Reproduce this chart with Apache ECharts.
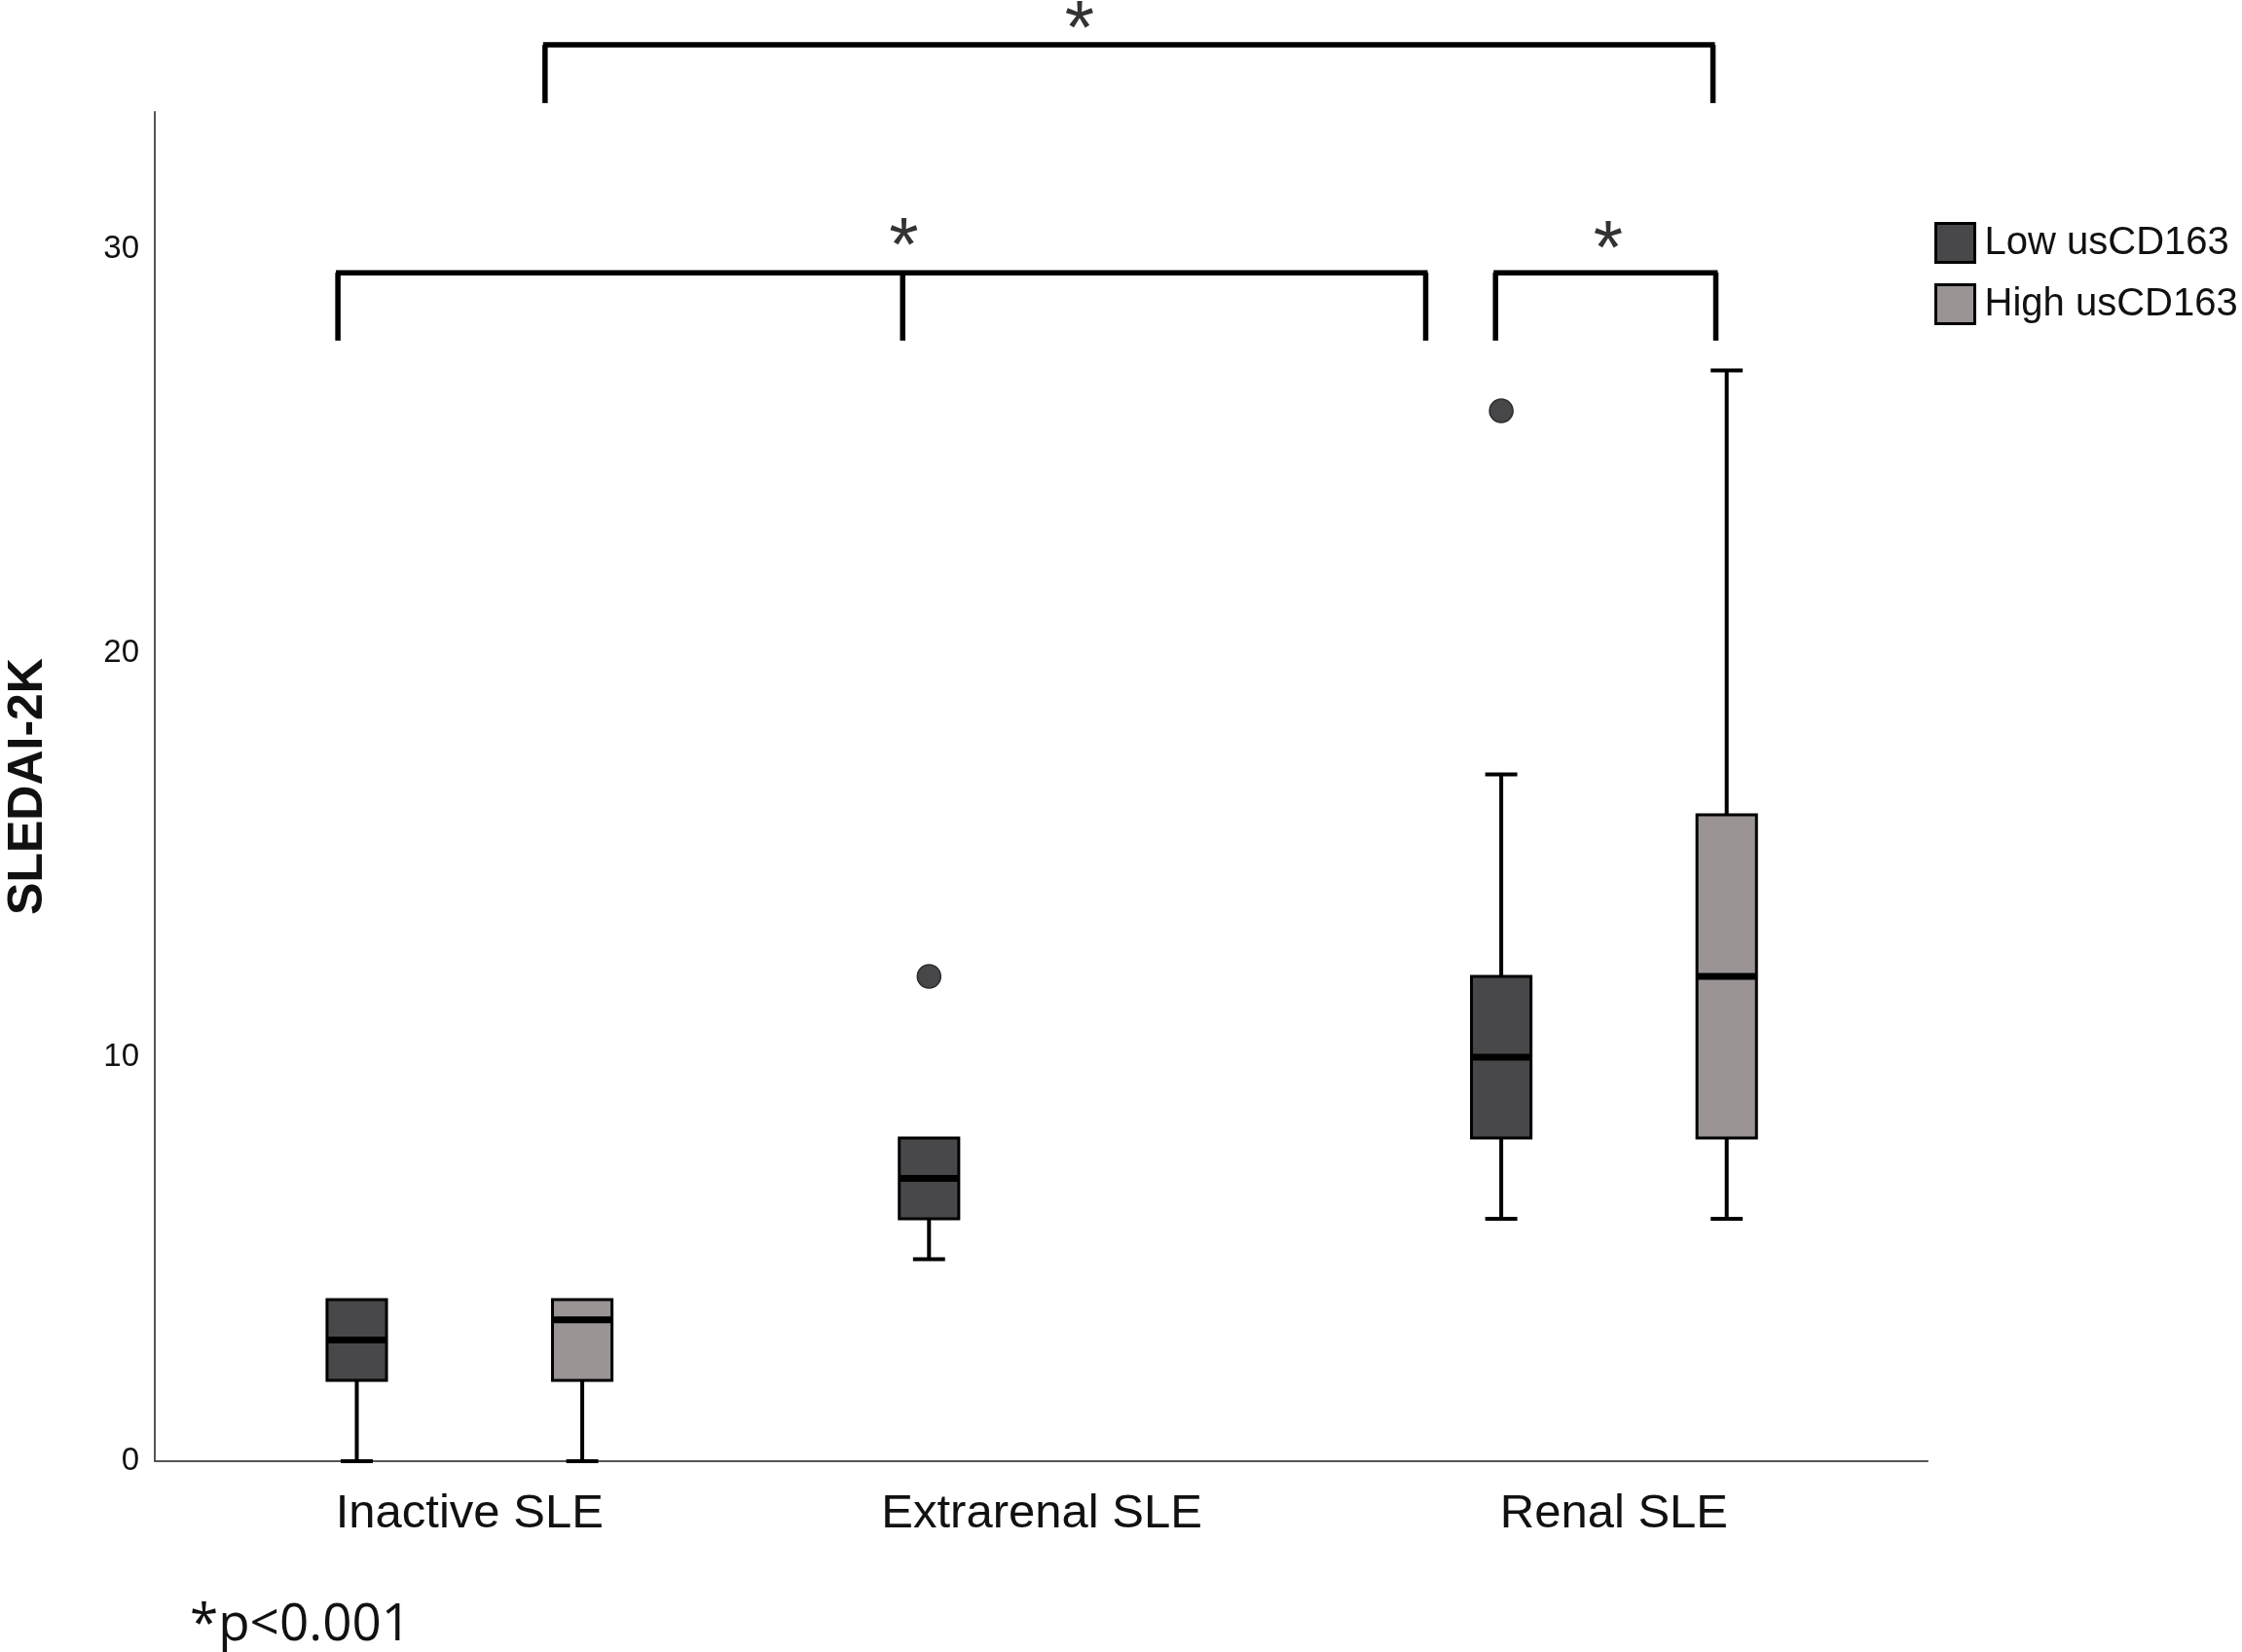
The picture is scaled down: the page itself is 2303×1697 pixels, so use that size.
<!DOCTYPE html>
<html>
<head>
<meta charset="utf-8">
<style>
  html, body { margin: 0; padding: 0; background: #fff; }
  #chart { width: 2303px; height: 1697px; }
</style>
<script src="https://cdn.jsdelivr.net/npm/echarts@6/dist/echarts.min.js"></script>
</head>
<body>
<div id="chart"></div>
<script>
var categories = ['Inactive SLE', 'Extrarenal SLE', 'Renal SLE'];
var seriesNames = ['Low usCD163', 'High usCD163'];
// [min, Q1, median, Q3, max] per category, null = group not present
var lowBoxes = [[0, 2, 3, 4, 4], [5, 6, 7, 8, 8], [6, 8, 10, 12, 17]];
var highBoxes = [[0, 2, 3.5, 4, 4], null, [6, 8, 12, 16, 27]];
// [category index, value]
var lowOutliers = [[1, 12], [2, 26]];
var yTicks = [0, 10, 20, 30];
// significance brackets (x in category units, y in SLEDAI-2K units)
var bracketLegs = [[0.132, 2.173], [-0.23, 0.757, 1.671], [1.793, 2.178]];
var bracketTops = [35.06, 29.42, 29.42];
var bracketFeet = [33.62, 27.74, 27.74];
var starX = [1.066, 0.759, 1.99];
var starY = [35.78, 30.41, 30.33];
var noteText = '*p<0.001';

(function() {
  var font = "'Liberation Sans', Arial, sans-serif";
  var lowFill = '#48484b';
  var highFill = '#9a9594';
  var axisColor = '#555';
  var BOX_HALF = 0.052, CAP_HALF = 0.028, SHIFT = 0.197;

  var chart = echarts.init(document.getElementById('chart'), null, { renderer: 'canvas' });

  function boxData(boxes) {
    var out = [];
    boxes.forEach(function(b, i) { if (b) out.push([i].concat(b)); });
    return out;
  }

  function boxRenderer(shift, fill) {
    return function(params, api) {
      var cat = api.value(0);
      var unit = api.size([1, 0])[0];
      var cx = api.coord([cat + shift, 0])[0];
      var hw = unit * BOX_HALF, cw = unit * CAP_HALF;
      function y(k) { return api.coord([0, api.value(k)])[1]; }
      var yMin = y(1), yQ1 = y(2), yMed = y(3), yQ3 = y(4), yMax = y(5);
      var whisker = { stroke: '#000', lineWidth: 4, fill: null };
      var kids = [];
      if (yMin > yQ1 + 0.5) {
        kids.push({ type: 'line', shape: { x1: cx, y1: yQ1, x2: cx, y2: yMin }, style: whisker });
        kids.push({ type: 'line', shape: { x1: cx - cw, y1: yMin, x2: cx + cw, y2: yMin }, style: whisker });
      }
      if (yMax < yQ3 - 0.5) {
        kids.push({ type: 'line', shape: { x1: cx, y1: yQ3, x2: cx, y2: yMax }, style: whisker });
        kids.push({ type: 'line', shape: { x1: cx - cw, y1: yMax, x2: cx + cw, y2: yMax }, style: whisker });
      }
      kids.push({
        type: 'rect',
        shape: { x: cx - hw, y: yQ3, width: hw * 2, height: yQ1 - yQ3 },
        style: { fill: fill, stroke: '#000', lineWidth: 3 }
      });
      kids.push({ type: 'line', shape: { x1: cx - hw, y1: yMed, x2: cx + hw, y2: yMed }, style: { stroke: '#000', lineWidth: 7 } });
      return { type: 'group', children: kids };
    };
  }

  function outlierRenderer(shift, fill) {
    return function(params, api) {
      var p = api.coord([api.value(0) + shift, api.value(1)]);
      return { type: 'circle', shape: { cx: p[0], cy: p[1], r: 12 }, style: { fill: fill, stroke: '#2a2a2a', lineWidth: 1.5 } };
    };
  }

  function bracketRenderer(params, api) {
    var i = params.dataIndex;
    var legs = bracketLegs[i];
    var top = api.coord([0, bracketTops[i]])[1];
    var foot = api.coord([0, bracketFeet[i]])[1];
    var xs = legs.map(function(v) { return api.coord([v, 0])[0]; });
    var st = { stroke: '#000', lineWidth: 5.5, fill: null };
    var kids = [{ type: 'line', shape: { x1: xs[0] - 2, y1: top, x2: xs[xs.length - 1] + 2, y2: top }, style: st }];
    xs.forEach(function(x) {
      kids.push({ type: 'line', shape: { x1: x, y1: top, x2: x, y2: foot }, style: st });
    });
    var s = api.coord([starX[i], starY[i]]);
    kids.push({
      type: 'text',
      style: { text: '*', x: s[0], y: s[1] + 17, align: 'center', verticalAlign: 'middle', fontSize: 78, fontFamily: font, fill: '#333' }
    });
    return { type: 'group', children: kids };
  }

  chart.setOption({
    animation: false,
    backgroundColor: '#fff',
    grid: { left: 159, right: 323, top: 115, bottom: 196, containLabel: false, outerBoundsMode: 'none' },
    legend: {
      orient: 'vertical', left: 1987, top: 228, padding: 0,
      itemWidth: 40, itemHeight: 40, itemGap: 20,
      selectedMode: false,
      textStyle: { fontSize: 40, fontFamily: font, color: '#111', padding: [0, 0, 0, 5] },
      data: [
        { name: seriesNames[0], icon: 'rect', itemStyle: { color: lowFill, borderColor: '#000', borderWidth: 3 } },
        { name: seriesNames[1], icon: 'rect', itemStyle: { color: highFill, borderColor: '#000', borderWidth: 3 } }
      ]
    },
    xAxis: {
      type: 'value', min: -0.55, max: 2.548,
      splitLine: { show: false },
      axisTick: { show: false },
      axisLine: { onZero: false, lineStyle: { color: axisColor, width: 2 } },
      axisLabel: {
        customValues: [0, 1, 2],
        fontSize: 49, fontFamily: font, color: '#111', margin: 30,
        formatter: function(v) {
          var r = Math.round(v);
          return Math.abs(v - r) < 1e-6 && categories[r] ? categories[r] : '';
        }
      }
    },
    yAxis: {
      type: 'value', min: 0, max: 33.4, interval: 10,
      name: 'SLEDAI-2K', nameLocation: 'middle', nameGap: 105,
      nameTextStyle: { fontSize: 50, fontWeight: 'bold', fontFamily: font, color: '#111' },
      splitLine: { show: false },
      axisTick: { show: false },
      axisLine: { show: true, onZero: false, lineStyle: { color: axisColor, width: 2 } },
      axisLabel: {
        fontSize: 33, fontFamily: font, color: '#111', margin: 16,
        formatter: function(v) { return yTicks.indexOf(v) >= 0 ? String(v) : ''; }
      }
    },
    series: [
      {
        name: seriesNames[0], type: 'custom', clip: false, z: 3,
        itemStyle: { color: lowFill },
        encode: { x: 0, y: [1, 2, 3, 4, 5] },
        renderItem: boxRenderer(-SHIFT, lowFill),
        data: boxData(lowBoxes)
      },
      {
        name: seriesNames[1], type: 'custom', clip: false, z: 3,
        itemStyle: { color: highFill },
        encode: { x: 0, y: [1, 2, 3, 4, 5] },
        renderItem: boxRenderer(SHIFT, highFill),
        data: boxData(highBoxes)
      },
      {
        name: seriesNames[0], type: 'custom', clip: false, z: 4,
        itemStyle: { color: lowFill },
        encode: { x: 0, y: 1 },
        renderItem: outlierRenderer(-SHIFT, '#47474a'),
        data: lowOutliers
      },
      {
        name: 'brackets', type: 'custom', clip: false, z: 5,
        encode: { x: 0, y: 1 },
        renderItem: bracketRenderer,
        data: starX.map(function(x, i) { return [x, bracketTops[i]]; })
      }
    ],
    graphic: [{
      type: 'text', left: 195, top: 1643,
      style: { text: noteText, fontSize: 53, fontFamily: "'Open Sans', sans-serif", fill: '#111' }
    }]
  });
  window.addEventListener('resize', function() { chart.resize(); });
})();
</script>
</body>
</html>
